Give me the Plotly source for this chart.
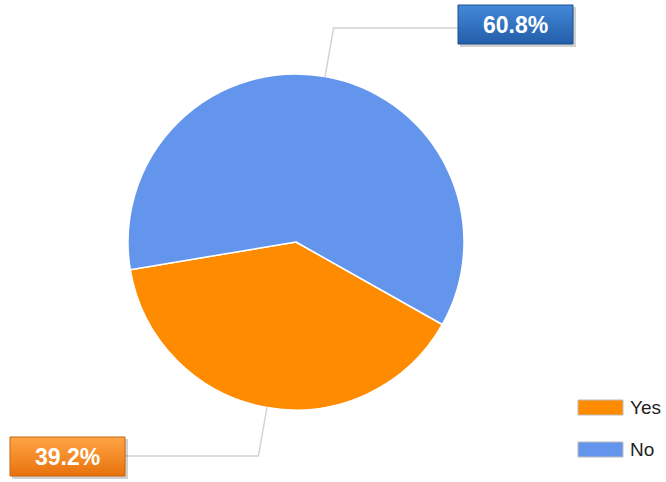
import math
import plotly.graph_objects as go

# Survey answers
labels = ["Yes", "No"]
values = [39.2, 60.8]
colors = ["#FF8C00", "#6495ED"]
box_fill_top = ["#FFA344", "#4288D8"]
box_fill_bottom = ["#E8740E", "#245FAA"]
box_border = ["#C8650E", "#1F4F8E"]

W, H = 666, 482
cx, cy, R = 296, 242, 168          # pie centre / radius in pixels
rotation = 119.4                   # clockwise start angle of first slice


def px(x):
    return x / W


def py(y):
    return 1 - y / H


fig = go.Figure(go.Pie(
    labels=labels,
    values=values,
    sort=False,
    direction="clockwise",
    rotation=rotation,
    marker=dict(colors=colors, line=dict(color="white", width=1.5)),
    textinfo="none",
    hoverinfo="label+percent",
    showlegend=False,
    domain=dict(x=[px(cx - R), px(cx + R)], y=[py(cy + R), py(cy - R)]),
))

shapes = []
annotations = []

# label box geometry: (leader end y, box left, box top) per slice
box_layout = {
    "No": dict(line_y=28, side="right", bx=458, by=5),
    "Yes": dict(line_y=456, side="left", bx=10, by=437),
}
BW, BH = 115, 39

total = sum(values)
start = rotation
for lab, val, i in zip(labels, values, range(len(labels))):
    span = 360 * val / total
    mid = math.radians(start + span / 2)
    start += span
    ex, ey = cx + R * math.sin(mid), cy - R * math.cos(mid)
    cfg = box_layout[lab]
    t = (cfg["line_y"] - ey) / (-math.cos(mid))
    kx = ex + t * math.sin(mid)
    bx, by = cfg["bx"], cfg["by"]
    hx = bx if cfg["side"] == "right" else bx + BW
    shapes.append(dict(type="path", xref="paper", yref="paper",
                       path=f"M{px(ex)},{py(ey)} L{px(kx)},{py(cfg['line_y'])} L{px(hx)},{py(cfg['line_y'])}",
                       line=dict(color="#D4D4D4", width=1.5)))
    # drop shadow
    shapes.append(dict(type="rect", xref="paper", yref="paper",
                       x0=px(bx + 2), x1=px(bx + BW + 3), y0=py(by + BH + 3), y1=py(by + 2),
                       fillcolor="rgba(0,0,0,0.18)", line=dict(width=0)))
    # vertical gradient fill: each band runs to the box bottom so no seams show
    n = 16
    c1 = [int(box_fill_top[i][k:k + 2], 16) for k in (1, 3, 5)]
    c2 = [int(box_fill_bottom[i][k:k + 2], 16) for k in (1, 3, 5)]
    for s in range(n):
        f = s / (n - 1)
        c = "rgb({},{},{})".format(*[round(a + (b - a) * f) for a, b in zip(c1, c2)])
        shapes.append(dict(type="rect", xref="paper", yref="paper",
                           x0=px(bx), x1=px(bx + BW),
                           y0=py(by + BH), y1=py(by + BH * s / n),
                           fillcolor=c, line=dict(width=0)))
    shapes.append(dict(type="rect", xref="paper", yref="paper",
                       x0=px(bx), x1=px(bx + BW), y0=py(by + BH), y1=py(by),
                       fillcolor="rgba(0,0,0,0)", line=dict(color=box_border[i], width=1)))
    annotations.append(dict(xref="paper", yref="paper", x=px(bx + BW / 2), y=py(by + BH / 2),
                            text=f"<b>{val:.1f}%</b>", showarrow=False,
                            xanchor="center", yanchor="middle",
                            font=dict(family="Liberation Sans, Arial", size=23, color="#FFFFFF")))

# legend
leg_x, leg_y, leg_gap = 578, 400, 42
for i, lab in enumerate(labels):
    y0 = leg_y + i * leg_gap
    shapes.append(dict(type="rect", xref="paper", yref="paper",
                       x0=px(leg_x), x1=px(leg_x + 45), y0=py(y0 + 15), y1=py(y0),
                       fillcolor=colors[i], line=dict(color="#BBBBBB", width=1)))
    annotations.append(dict(xref="paper", yref="paper", x=px(leg_x + 50), y=py(y0 + 7.5),
                            text=lab, showarrow=False, xanchor="left", yanchor="middle",
                            font=dict(family="Liberation Sans, Arial", size=19, color="#222222")))

fig.update_layout(
    width=W, height=H,
    margin=dict(l=0, r=0, t=0, b=0),
    paper_bgcolor="white",
    plot_bgcolor="white",
    shapes=shapes,
    annotations=annotations,
)

fig.write_html("out.html")
